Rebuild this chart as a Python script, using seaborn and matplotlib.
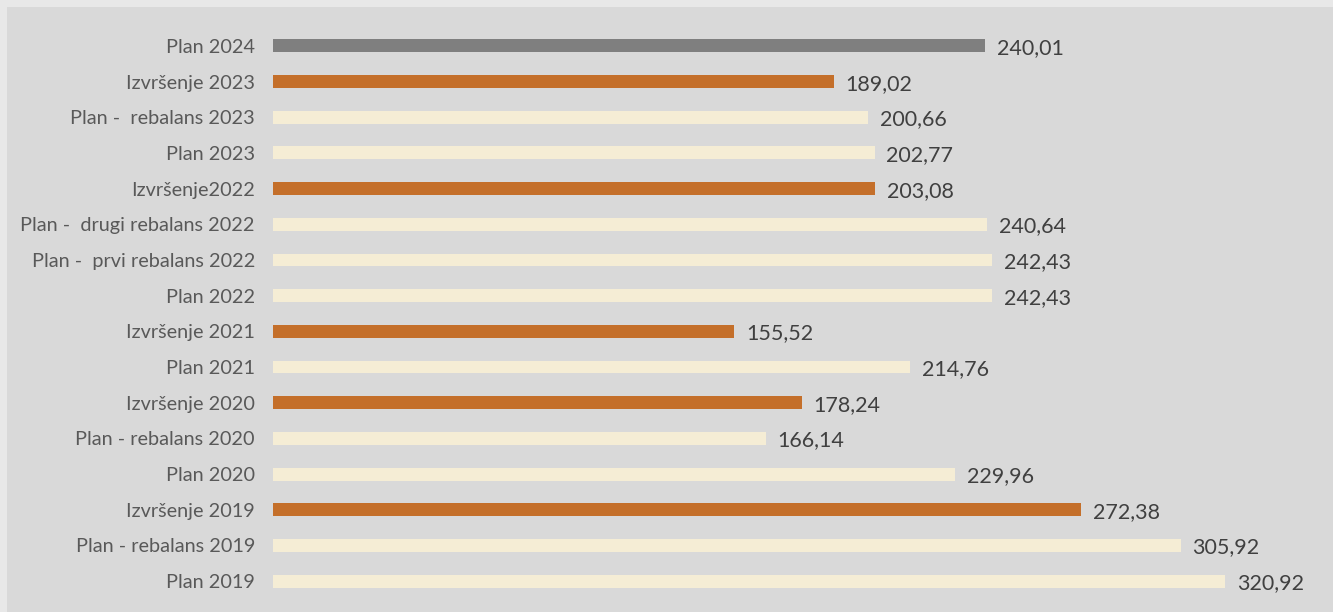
import matplotlib
matplotlib.use("Agg")
import matplotlib.pyplot as plt
import seaborn as sns
import pandas as pd
from matplotlib.patches import Rectangle

sns.set_theme(style="white")
plt.rcParams["font.family"] = ["Lato", "DejaVu Sans"]

# Data, top to bottom as in the chart
labels = [
    "Plan 2024",
    "Izvršenje 2023",
    "Plan -  rebalans 2023",
    "Plan 2023",
    "Izvršenje2022",
    "Plan -  drugi rebalans 2022",
    "Plan -  prvi rebalans 2022",
    "Plan 2022",
    "Izvršenje 2021",
    "Plan 2021",
    "Izvršenje 2020",
    "Plan - rebalans 2020",
    "Plan 2020",
    "Izvršenje 2019",
    "Plan - rebalans 2019",
    "Plan 2019",
]
values = [240.01, 189.02, 200.66, 202.77, 203.08, 240.64, 242.43, 242.43,
          155.52, 214.76, 178.24, 166.14, 229.96, 272.38, 305.92, 320.92]
kinds = ["next", "exec", "plan", "plan", "exec", "plan", "plan", "plan",
         "exec", "plan", "exec", "plan", "plan", "exec", "plan", "plan"]

kind_colors = {"next": "#7f7f7f", "exec": "#c46f2a", "plan": "#f5edd5"}

df = pd.DataFrame({"label": labels, "value": values, "kind": kinds})

W, H = 1333, 612
fig = plt.figure(figsize=(W / 100, H / 100), dpi=100)
fig.patch.set_facecolor("#e8e8e8")
fig.patches.append(Rectangle((7 / W, 0), 1, 1 - 7 / H, transform=fig.transFigure,
                             facecolor="#d9d9d9", edgecolor="none", zorder=-10))

ax = fig.add_axes([273 / W, 1 - 599 / H, (1320 - 273) / W, (599 - 28) / H])
ax.set_facecolor("none")

sns.barplot(data=df, y="label", x="value", hue="label",
            palette=[kind_colors[k] for k in kinds], legend=False,
            width=0.36, orient="h", ax=ax, saturation=1, linewidth=0)

ax.set_xlim(0, (1320 - 273) / ((1225 - 273) / 320.92))
ax.set_ylim(15.5, -0.5)

for i, v in enumerate(values):
    ax.annotate(f"{v:.2f}".replace(".", ","), xy=(v, i), xytext=(8.5, -1.5),
                textcoords="offset points", va="center", ha="left",
                fontsize=15.5, color="#404040")

ax.set_xlabel("")
ax.set_ylabel("")
ax.set_xticks([])
ax.tick_params(axis="y", length=0, pad=13, labelsize=14.3, labelcolor="#595959")
for side in ["top", "right", "bottom", "left"]:
    ax.spines[side].set_visible(False)

plt.savefig("out.png", dpi=100, facecolor=fig.get_facecolor())
